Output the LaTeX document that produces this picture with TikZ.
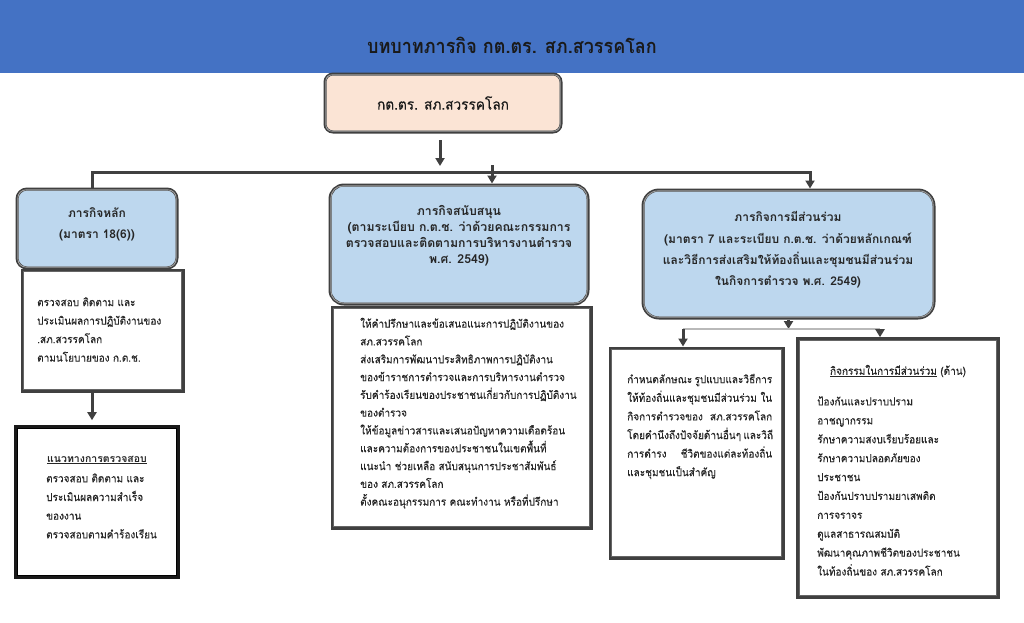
\documentclass[tikz,border=0pt]{standalone}
\usepackage{fontspec}
\setmainfont[Script=Thai, FakeStretch=0.91, FakeBold=0.2]{Loma}
\newfontfamily\hdfont[Script=Thai, FakeStretch=1.0]{Loma}
\newfontfamily\ttlfont[Script=Thai, FakeStretch=0.9]{Loma}
\usetikzlibrary{arrows.meta}
\definecolor{band}{HTML}{4472C4}
\definecolor{peach}{HTML}{FBE4D5}
\definecolor{hblue}{HTML}{BDD7EE}
\definecolor{dk}{HTML}{404040}
\definecolor{txt}{HTML}{262626}
\definecolor{ttl}{HTML}{1A1A1A}
\tikzset{
  conn/.style={draw=dk, line width=3pt},
  arr/.style={conn, -{Triangle[width=9pt,length=8pt]}},
  thinconn/.style={draw=gray!55, line width=1.2pt},
  boxline/.style={draw=dk, line width=3pt},
  hdr/.style={boxline, fill=hblue, inner sep=0pt},
  topbox/.style={boxline, fill=peach, inner sep=0pt, rounded corners=8pt},
  tbox/.style={boxline, fill=white, inner sep=0pt},
  heavy/.style={draw=black!90, line width=3.6pt, fill=white, inner sep=0pt},
  inline/.style={draw=dk!80, line width=0.9pt},
  hinline/.style={draw=gray!75, line width=0.9pt},
  body/.style={font=\fontsize{11}{18.5}\selectfont, text=txt, inner sep=0pt, align=left, anchor=north west},
  htext/.style={text=txt, inner sep=0pt, align=center},
}
\newcommand\innerframe[4]{\draw[#2, rounded corners=#3] ([xshift=#4,yshift=-#4]#1.north west) rectangle ([xshift=-#4,yshift=#4]#1.south east);}
\begin{document}
\begin{tikzpicture}[x=1pt,y=-1pt]
\useasboundingbox (0,0) rectangle (1024,622);
\fill[white] (0,0) rectangle (1024,622);
% title band
\fill[band] (0,0) rectangle (1024,73);
\node[text=ttl, font=\ttlfont\bfseries\fontsize{20}{24}\selectfont, inner sep=0pt] (title) at (512,45) {บทบาทภารกิจ กต.ตร. สภ.สวรรคโลก};

% connector points
\coordinate (t1) at (440,140);
\coordinate (t2) at (440,166);
\coordinate (bL) at (92,172);
\coordinate (bR) at (810,172);
\coordinate (m1) at (492,165);
\coordinate (r0) at (788,329);
\coordinate (rL) at (683,329);
\coordinate (rR) at (880,329);

% boxes
\node[topbox, minimum width=236pt, minimum height=58pt] (top) at (443,103) {};
\innerframe{top}{hinline}{6pt}{2.4pt}
\node[text=ttl, font=\fontsize{15}{18}\selectfont, inner sep=0pt] (toptext) at (443,103) {กต.ตร. สภ.สวรรคโลก};

\node[hdr, rounded corners=10pt, minimum width=160pt, minimum height=79pt] (lh) at (97,228.5) {};
\innerframe{lh}{hinline}{8pt}{2.4pt}
\node[tbox, minimum width=161pt, minimum height=121pt] (ltxt) at (102.5,330.5) {};
\innerframe{ltxt}{inline}{0pt}{2.6pt}
\node[heavy, minimum width=162pt, minimum height=150pt] (lbot) at (97,502) {};
\innerframe{lbot}{inline,draw=black}{0pt}{3.2pt}

\node[hdr, rounded corners=14pt, minimum width=258pt, minimum height=119pt] (mh) at (459,244.5) {};
\innerframe{mh}{hinline}{12pt}{2.4pt}
\node[tbox, minimum width=259pt, minimum height=221pt] (mtxt) at (461.5,417.5) {};
\innerframe{mtxt}{inline}{0pt}{2.6pt}

\node[hdr, rounded corners=16pt, minimum width=291pt, minimum height=128pt] (rh) at (788.5,254) {};
\innerframe{rh}{hinline}{14pt}{2.4pt}
\node[tbox, minimum width=173pt, minimum height=210pt] (s1) at (696.5,453) {};
\innerframe{s1}{inline}{0pt}{2.6pt}
\node[heavy, draw=dk, minimum width=200pt, minimum height=258pt] (s2) at (898,468) {};
\innerframe{s2}{inline}{0pt}{3.2pt}

% connector lines
\draw[arr] (t1) -- (t2);
\draw[arr] (bL |- lh.north) -- (bL) -- (bR) -- (bR |- rh.north);
\draw[arr] (m1) -- (m1 |- mh.north);
\draw[arr, shorten >=5pt] (ltxt.south -| bL) -- (lbot.north -| bL);
\draw[arr] (rh.south) -- (rh.south |- r0);
\draw[thinconn] (rL) -- (rR);
\draw[arr] (rL) -- (rL |- s1.north);
\draw[arr] (rR) -- (rR |- s2.north);

% header texts
\node[htext, font=\hdfont\bfseries\fontsize{12}{21}\selectfont] (lhtext) at (97,224) {ภารกิจหลัก\\(มาตรา 18(6))};
\node[htext, font=\hdfont\bfseries\fontsize{12.3}{16}\selectfont] (mhtext) at (459,236) {ภารกิจสนับสนุน\\(ตามระเบียบ ก.ต.ช. ว่าด้วยคณะกรรมการ\\ตรวจสอบและติดตามการบริหารงานตำรวจ\\พ.ศ. 2549)};
\node[htext, font=\hdfont\bfseries\fontsize{12}{21.3}\selectfont] (rhtext) at (788,250) {ภารกิจการมีส่วนร่วม\\(มาตรา 7 และระเบียบ ก.ต.ช. ว่าด้วยหลักเกณฑ์\\และวิธีการส่งเสริมให้ท้องถิ่นและชุมชนมีส่วนร่วม\\ในกิจการตำรวจ พ.ศ. 2549)};

% body texts
\node[body] (ltxtt) at (37,293) {\strut ตรวจสอบ ติดตาม และ\\ประเมินผลการปฏิบัติงานของ\\.สภ.สวรรคโลก\\ตามนโยบายของ ก.ต.ช.};

\node[text=txt, font=\hdfont\bfseries\fontsize{10.5}{14}\selectfont, inner sep=0pt] (lbh) at (97,460) {\underline{แนวทางการตรวจสอบ}};
\node[body, font=\fontsize{11}{18.7}\selectfont] (lbott) at (46,469) {\strut ตรวจสอบ ติดตาม และ\\ประเมินผลความสำเร็จ\\ของงาน\\ตรวจสอบตามคำร้องเรียน};

\node[body, font=\fontsize{11}{17.8}\selectfont] (mtxtt) at (360,315) {\strut ให้คำปรึกษาและข้อเสนอแนะการปฏิบัติงานของ\\สภ.สวรรคโลก\\ส่งเสริมการพัฒนาประสิทธิภาพการปฏิบัติงาน\\ของข้าราชการตำรวจและการบริหารงานตำรวจ\\รับคำร้องเรียนของประชาชนเกี่ยวกับการปฏิบัติงาน\\ของตำรวจ\\ให้ข้อมูลข่าวสารและเสนอปัญหาความเดือดร้อน\\และความต้องการของประชาชนในเขตพื้นที่\\แนะนำ ช่วยเหลือ สนับสนุนการประชาสัมพันธ์\\ของ สภ.สวรรคโลก\\ตั้งคณะอนุกรรมการ คณะทำงาน หรือที่ปรึกษา};

\node[body, font=\fontsize{11}{18.6}\selectfont] (s1t) at (627,370) {\strut\makebox[145pt][s]{กำหนดลักษณะ รูปแบบและวิธีการ}\\\makebox[145pt][s]{ให้ท้องถิ่นและชุมชนมีส่วนร่วม ใน}\\\makebox[145pt][s]{กิจการตำรวจของ สภ.สวรรคโลก}\\\makebox[145pt][s]{โดยคำนึงถึงปัจจัยด้านอื่นๆ และวิถี}\\\makebox[145pt][s]{การดำรง ชีวิตของแต่ละท้องถิ่น}\\และชุมชนเป็นสำคัญ};

\node[text=txt, font=\fontsize{11}{14}\selectfont, inner sep=0pt] (s2h) at (898,371) {\underline{กิจกรรมในการมีส่วนร่วม} (ด้าน)};
\node[body, font=\fontsize{11}{18.9}\selectfont] (s2t) at (817,392) {\strut ป้องกันและปราบปราม\\อาชญากรรม\\รักษาความสงบเรียบร้อยและ\\รักษาความปลอดภัยของ\\ประชาชน\\ป้องกันปราบปรามยาเสพติด\\การจราจร\\ดูแลสาธารณสมบัติ\\พัฒนาคุณภาพชีวิตของประชาชน\\ในท้องถิ่นของ สภ.สวรรคโลก};
\end{tikzpicture}
\end{document}
